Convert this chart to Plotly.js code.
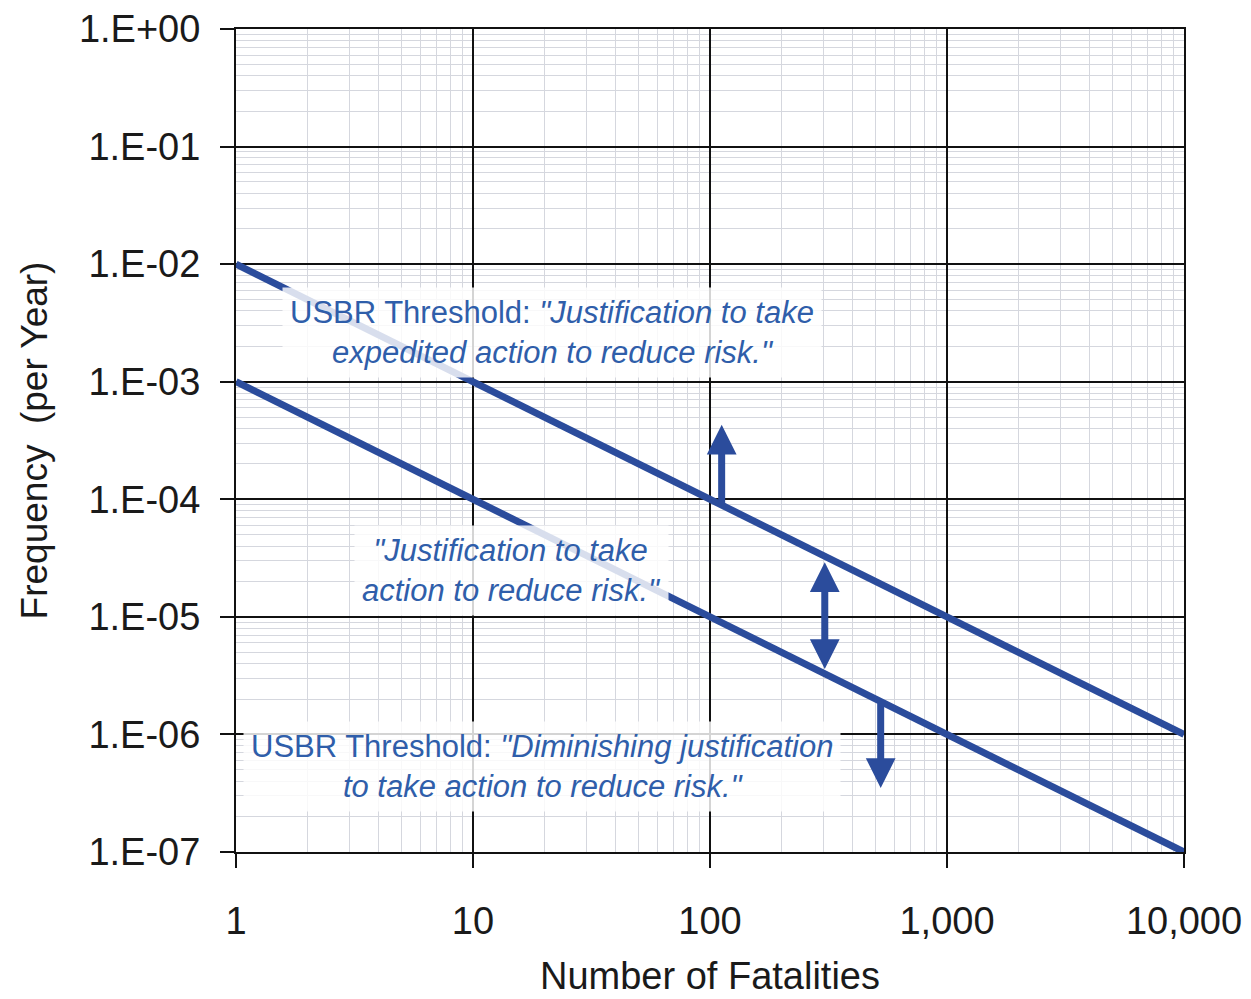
<!DOCTYPE html>
<html>
<head>
<meta charset="utf-8">
<script src="https://cdn.plot.ly/plotly-3.0.1.min.js"></script>
<style>html,body{margin:0;padding:0;background:#fff;}#chart{width:1251px;height:999px;}</style>
</head>
<body>
<div id="chart"></div>
<script>
// ---- data ----
const fatalities = [1, 10000];
const upperThreshold = [1e-2, 1e-6];
const lowerThreshold = [1e-3, 1e-7];

const xTickVals = [1, 10, 100, 1000, 10000];
const xTickText = ['1', '10', '100', '1,000', '10,000'];
const yTickVals = [1, 1e-1, 1e-2, 1e-3, 1e-4, 1e-5, 1e-6, 1e-7];
const yTickText = ['1.E+00', '1.E-01', '1.E-02', '1.E-03', '1.E-04', '1.E-05', '1.E-06', '1.E-07'];

// arrows: x position, tail frequency, tip frequency
const arrowX = [112, 305, 525];
const arrowFrom = [8.9e-5, 3.0e-5, 1.9e-6];
const arrowTo = [4.3e-4, 3.6e-6, 3.5e-7];
const arrowDouble = [false, true, false];

// labels: text, x (fatalities), y (frequency)
const labelText = [
  'USBR Threshold: <i>"Justification to take</i><br><i>expedited action to reduce risk."</i>',
  '<i>"Justification to take</i><br><i>action to reduce risk."</i>',
  'USBR Threshold: <i>"Diminishing justification</i><br><i>to take action to reduce risk."</i>'
];
const labelX = [21.5, 14.6, 19.5];
const labelY = [2.6e-3, 2.5e-5, 5.3e-7];

// minor grid values
const minorX = [];
for (let d = 0; d < 4; d++) for (let m = 2; m <= 9; m++) minorX.push(m * Math.pow(10, d));
const minorY = [];
for (let d = -7; d < 0; d++) for (let m = 2; m <= 9; m++) minorY.push(m * Math.pow(10, d));

const lineColor = '#2B4C9C';
const textColor = '#2F5EAA';
const font = 'Liberation Sans, Arial, sans-serif';

const traces = [
  {x: fatalities, y: upperThreshold, mode: 'lines', line: {color: lineColor, width: 7}, hoverinfo: 'skip'},
  {x: fatalities, y: lowerThreshold, mode: 'lines', line: {color: lineColor, width: 7}, hoverinfo: 'skip'}
];

const annotations = [];
for (let i = 0; i < labelText.length; i++) {
  annotations.push({
    x: Math.log10(labelX[i]), y: Math.log10(labelY[i]), xref: 'x', yref: 'y',
    text: labelText[i], showarrow: false, align: 'center',
    font: {family: font, size: 31, color: textColor},
    bgcolor: 'rgba(255,255,255,0.82)', borderpad: 7
  });
}
for (let i = 0; i < arrowX.length; i++) {
  const a = {
    x: Math.log10(arrowX[i]), y: Math.log10(arrowTo[i]),
    ax: Math.log10(arrowX[i]), ay: Math.log10(arrowFrom[i]),
    xref: 'x', yref: 'y', axref: 'x', ayref: 'y',
    text: '', showarrow: true, arrowhead: 2, arrowsize: 0.85, arrowwidth: 7,
    arrowcolor: lineColor, standoff: 0, startstandoff: 0
  };
  if (arrowDouble[i]) { a.arrowside = 'end+start'; a.startarrowhead = 2; a.startarrowsize = 0.85; }
  annotations.push(a);
}

const layout = {
  width: 1251, height: 999,
  margin: {l: 236, r: 67, t: 29, b: 147},
  paper_bgcolor: '#fff', plot_bgcolor: '#fff',
  showlegend: false,
  font: {family: font, color: '#1a1a1a'},
  xaxis: {
    type: 'log', range: [0, 4],
    tickmode: 'array', tickvals: xTickVals, ticktext: xTickText,
    tickfont: {size: 38, color: '#1a1a1a'},
    ticks: 'outside', ticklen: 14, tickwidth: 2, tickcolor: '#111',
    ticklabelstandoff: 20,
    showgrid: true, gridcolor: '#111', gridwidth: 2,
    showline: true, linecolor: '#111', linewidth: 2, mirror: true,
    zeroline: false,
    minor: {tickmode: 'array', tickvals: minorX, showgrid: true, gridcolor: '#d5d7de', gridwidth: 1, ticks: ''},
    title: {text: 'Number of Fatalities', font: {size: 38, color: '#1a1a1a'}, standoff: 22}
  },
  yaxis: {
    type: 'log', range: [-7, 0],
    tickmode: 'array', tickvals: yTickVals, ticktext: yTickText,
    tickfont: {size: 38, color: '#1a1a1a'},
    ticks: 'outside', ticklen: 14, tickwidth: 2, tickcolor: '#111',
    ticklabelstandoff: 12,
    showgrid: true, gridcolor: '#111', gridwidth: 2,
    showline: true, linecolor: '#111', linewidth: 2, mirror: true,
    zeroline: false,
    minor: {tickmode: 'array', tickvals: minorY, showgrid: true, gridcolor: '#d5d7de', gridwidth: 1, ticks: ''},
    title: {text: 'Frequency  (per Year)', font: {size: 37, color: '#1a1a1a'}, standoff: 20}
  },
  annotations: annotations
};

Plotly.newPlot('chart', traces, layout, {displayModeBar: false, staticPlot: true});
</script>
</body>
</html>
